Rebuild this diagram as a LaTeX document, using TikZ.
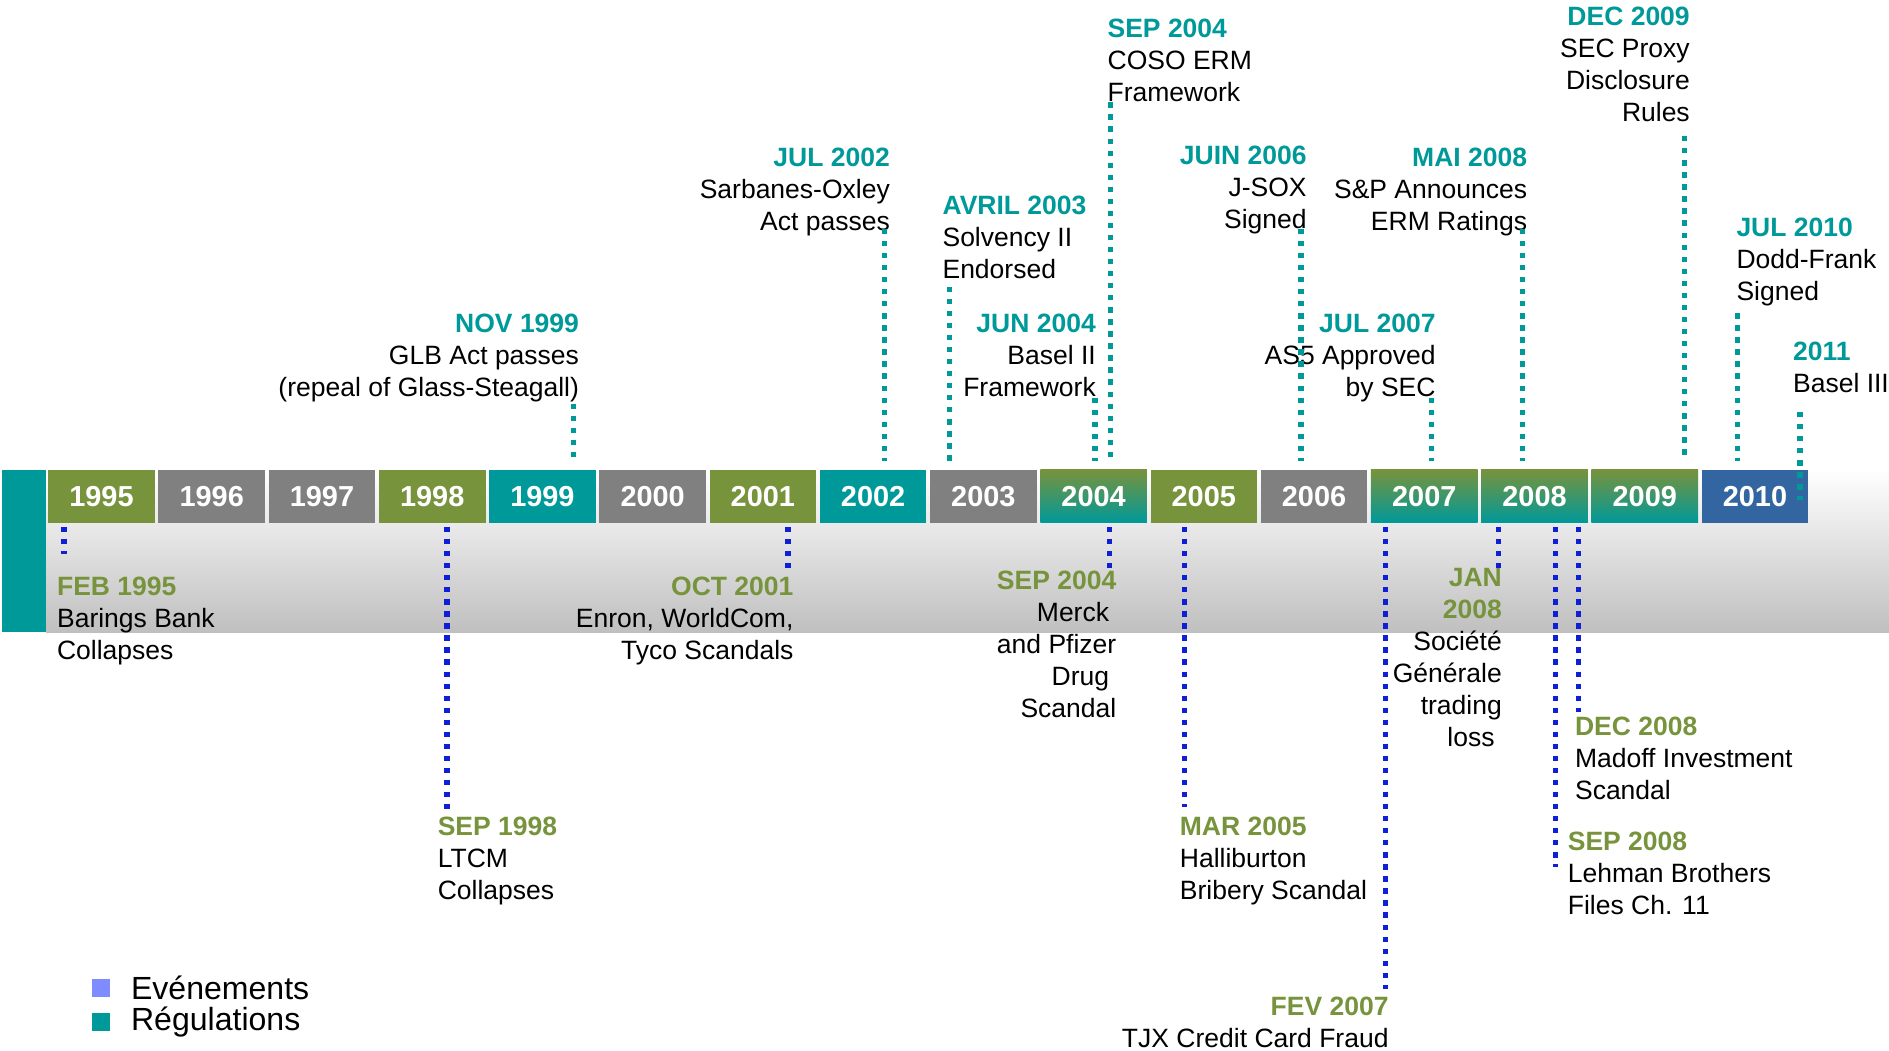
\documentclass[tikz,border=0pt]{standalone}
\usepackage{fontspec}
\setmainfont{Liberation Sans}
\usepackage{xcolor}
\usepackage{tikz}
\usetikzlibrary{positioning}

\definecolor{olivegrn}{HTML}{77933C}
\definecolor{tealreg}{HTML}{009999}
\definecolor{boxgray}{HTML}{808080}
\definecolor{boxblue}{HTML}{3366A0}
\definecolor{evtblue}{HTML}{0F1FD6}
\definecolor{evtleg}{HTML}{7F8CFF}

\newcommand{\regdate}[1]{{\color{tealreg}\bfseries #1}}
\newcommand{\evtdate}[1]{{\color{olivegrn}\bfseries #1}}

\begin{document}
\begin{tikzpicture}[x=0.5pt, y=-0.5pt,
    lbl/.style={font=\fontsize{11}{13.25}\selectfont, inner sep=0pt},
    lblL/.style={lbl, anchor=north west, align=left},
    lblR/.style={lbl, anchor=north east, align=right},
    yearbox/.style={minimum width=44.25pt, minimum height=22pt, inner sep=0pt,
                    text=white, font=\fontsize{12}{14}\selectfont\bfseries},
    boxG/.style={fill=olivegrn}, boxN/.style={fill=boxgray},
    boxT/.style={fill=tealreg}, boxB/.style={fill=boxblue},
    boxS/.style={top color=olivegrn, bottom color=tealreg},
    regline/.style={draw=tealreg, line width=2.2pt, dash pattern=on 2.2pt off 2.8pt, shorten >=3.5pt},
    evtline/.style={draw=evtblue, line width=2.2pt, dash pattern=on 2.2pt off 2.8pt, shorten <=1.5pt},
    legsq/.style={minimum size=7.5pt, inner sep=0pt},
    legtxt/.style={font=\fontsize{13.3}{16}\selectfont, inner sep=0pt}]
  \useasboundingbox (0,0) rectangle (1568,872);
  \shade[top color=white, bottom color=gray!50] (38,390) rectangle (1568,525);
  \fill[tealreg] (2,390) rectangle (38,525);
  \foreach \yr/\st [count=\i from 0] in {1995/boxG, 1996/boxN, 1997/boxN, 1998/boxG,
      1999/boxT, 2000/boxN, 2001/boxG, 2002/boxT, 2003/boxN, 2004/boxS, 2005/boxG,
      2006/boxN, 2007/boxS, 2008/boxS, 2009/boxS, 2010/boxB}
    \node[yearbox, \st] (y\yr) at ({84.25+91.5*\i},412) {\yr};

  \node[lblR] (nov99) at (481,260.5) {\regdate{NOV 1999}\\GLB Act passes\\(repeal of Glass-Steagall)};
  \node[lblR] (jul02) at (739,122.5) {\regdate{JUL 2002}\\Sarbanes-Oxley\\Act passes};
  \node[lblL] (avr03) at (782,162.5) {\regdate{AVRIL 2003}\\Solvency II\\Endorsed};
  \node[lblR] (jun04) at (910,260.5) {\regdate{JUN 2004}\\Basel II\\Framework};
  \node[lblL] (sep04r) at (919,15.5) {\regdate{SEP 2004}\\COSO ERM\\Framework};
  \node[lblR] (juin06) at (1085,120.5) {\regdate{JUIN 2006}\\J-SOX\\Signed};
  \node[lblR] (jul07) at (1192,260.5) {\regdate{JUL 2007}\\AS5 Approved\\by SEC};
  \node[lblR] (mai08) at (1268,122.5) {\regdate{MAI 2008}\\S\&P Announces\\ERM Ratings};
  \node[lblR] (dec09) at (1403,5.5) {\regdate{DEC 2009}\\SEC Proxy\\Disclosure\\Rules};
  \node[lblL] (jul10) at (1441,180.5) {\regdate{JUL 2010}\\Dodd-Frank\\Signed};
  \node[lblL] (y2011) at (1488,283.5) {\regdate{2011}\\Basel III};

  \node[lblL] (feb95) at (47,478.5) {\evtdate{FEB 1995}\\Barings Bank\\Collapses};
  \node[lblL] (sep98) at (363,677.5) {\evtdate{SEP 1998}\\LTCM\\Collapses};
  \node[lblR] (oct01) at (659,478.5) {\evtdate{OCT 2001}\\Enron, WorldCom,\\Tyco Scandals};
  \node[lblR] (sep04e) at (927,473.5) {\evtdate{SEP 2004}\\Merck\kern3pt\\and Pfizer\\Drug\kern3pt\\Scandal};
  \node[lblL] (mar05) at (979,677.5) {\evtdate{MAR 2005}\\Halliburton\\Bribery Scandal};
  \node[lblR] (fev07) at (1153,827.5) {\evtdate{FEV 2007}\\TJX Credit Card Fraud};
  \node[lblR] (jan08) at (1247,471.5) {\evtdate{JAN}\\\evtdate{2008}\\Société\\Générale\\trading\\loss\kern3pt};
  \node[lblL] (dec08) at (1307,594.5) {\evtdate{DEC 2008}\\Madoff Investment\\Scandal};
  \node[lblL] (sep08) at (1301,690.5) {\evtdate{SEP 2008}\\Lehman Brothers\\Files Ch. 11};

  \coordinate (c-nov99) at (476,335);
  \coordinate (c-jul02) at (734,190);
  \coordinate (c-avr03) at (788,238);
  \coordinate (c-jun04) at (909,330);
  \coordinate (c-sep04r) at (922,85);
  \coordinate (c-juin06) at (1080,190);
  \coordinate (c-jul07) at (1188,330);
  \coordinate (c-mai08) at (1264,190);
  \coordinate (c-dec09) at (1398,113);
  \coordinate (c-jul10) at (1442,260);
  \coordinate (c-y2011) at (1494,342);
  \draw[regline] (c-nov99) -- (c-nov99 |- y1999.north);
  \draw[regline] (c-jul02) -- (c-jul02 |- y2002.north);
  \draw[regline] (c-avr03) -- (c-avr03 |- y2003.north);
  \draw[regline] (c-jun04) -- (c-jun04 |- y2004.north);
  \draw[regline] (c-sep04r) -- (c-sep04r |- y2004.north);
  \draw[regline] (c-juin06) -- (c-juin06 |- y2006.north);
  \draw[regline] (c-jul07) -- (c-jul07 |- y2007.north);
  \draw[regline] (c-mai08) -- (c-mai08 |- y2008.north);
  \draw[regline] (c-dec09) -- (c-dec09 |- y2009.north);
  \draw[regline] (c-jul10) -- (c-jul10 |- y2010.north);
  \draw[regline, shorten >=-1.5pt] (c-y2011) -- (c-y2011 |- y2010.center);

  \coordinate (c-feb95) at (53,460);
  \coordinate (c-sep98) at (371,672);
  \coordinate (c-oct01) at (654,473);
  \coordinate (c-sep04e) at (921,473);
  \coordinate (c-mar05) at (983,670);
  \coordinate (c-fev07) at (1150,821);
  \coordinate (c-jan08) at (1244,472);
  \coordinate (c-dec08) at (1310,591);
  \coordinate (c-sep08) at (1291,720);
  \draw[evtline] (c-feb95 |- y1995.south) -- (c-feb95);
  \draw[evtline] (c-sep98 |- y1998.south) -- (c-sep98);
  \draw[evtline] (c-oct01 |- y2001.south) -- (c-oct01);
  \draw[evtline] (c-sep04e |- y2004.south) -- (c-sep04e);
  \draw[evtline] (c-mar05 |- y2005.south) -- (c-mar05);
  \draw[evtline] (c-fev07 |- y2007.south) -- (c-fev07);
  \draw[evtline] (c-jan08 |- y2008.south) -- (c-jan08);
  \draw[evtline] (c-dec08 |- y2008.south) -- (c-dec08);
  \draw[evtline] (c-sep08 |- y2008.south) -- (c-sep08);

  \node[legsq, fill=evtleg] (sq-evt) at (83.5,820) {};
  \node[legtxt, right=8.5pt of sq-evt] (leg-evt) {Evénements};
  \node[legsq, fill=tealreg] (sq-reg) at (83.5,848) {};
  \node[legtxt, right=8.5pt of sq-reg] (leg-reg) {Régulations};
\end{tikzpicture}
\end{document}
